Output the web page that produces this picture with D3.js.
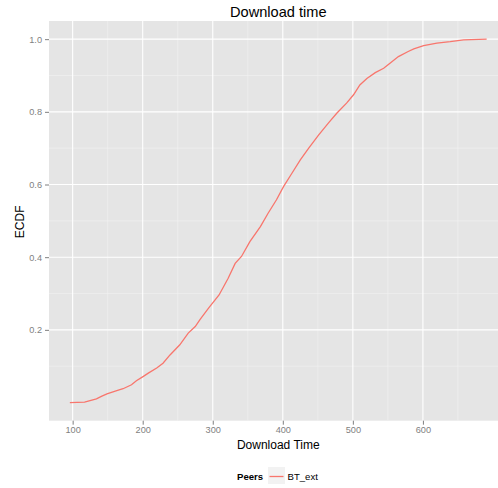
<!DOCTYPE html>
<html>
<head>
<meta charset="utf-8">
<script src="https://cdn.jsdelivr.net/npm/d3@7"></script>
<style>
  html, body { margin: 0; padding: 0; background: #ffffff; }
  svg { display: block; font-family: "Liberation Sans", Arial, Helvetica, sans-serif; }
</style>
</head>
<body>
<div id="chart"></div>
<script>
// Empirical CDF of download times for the BT_ext peers
const downloadTime = [96, 117, 134, 141, 149, 163, 172, 184, 191, 201, 208, 220, 229, 239, 253, 265, 275, 282, 294, 309,
  322, 332, 341, 353, 368, 379, 391, 401, 413, 425, 437, 451, 465, 477, 491, 501, 510, 520, 532, 544,
  553, 565, 579, 587, 601, 620, 639, 658, 691];
const ecdfValue = [0, 0.001, 0.010, 0.017, 0.024, 0.033, 0.038, 0.049, 0.060, 0.072, 0.081, 0.095, 0.108, 0.131, 0.159, 0.191, 0.209, 0.229, 0.260, 0.296,
  0.342, 0.383, 0.402, 0.443, 0.484, 0.521, 0.558, 0.594, 0.631, 0.668, 0.700, 0.736, 0.769, 0.796, 0.824, 0.847, 0.874, 0.892, 0.908, 0.920,
  0.934, 0.952, 0.966, 0.973, 0.982, 0.989, 0.993, 0.998, 1.000];
const seriesName = "BT_ext";
const xTicks = [100, 200, 300, 400, 500, 600];
const xMinor = [150, 250, 350, 450, 550, 650];
const yTicks = [0.2, 0.4, 0.6, 0.8, 1.0];
const yMinor = [0.1, 0.3, 0.5, 0.7, 0.9];

const W = 498, H = 488;
const panel = { left: 49, top: 21, right: 507.5, bottom: 420.7 };
const lineColor = "#F8766D";

const svg = d3.select("#chart").append("svg")
  .attr("width", W).attr("height", H);

// ggplot-style 5% expansion of the data range
const xExt = d3.extent(downloadTime);
const xPad = (xExt[1] - xExt[0]) * 0.05;
const x = d3.scaleLinear().domain([xExt[0] - xPad, xExt[1] + xPad]).range([panel.left, panel.right]);
const y = d3.scaleLinear().domain([-0.05, 1.05]).range([panel.bottom, panel.top]);

// panel background
svg.append("rect")
  .attr("x", panel.left).attr("y", panel.top)
  .attr("width", panel.right - panel.left).attr("height", panel.bottom - panel.top)
  .attr("fill", "#E5E5E5");

const grid = svg.append("g");
grid.selectAll("line.xminor").data(xMinor).join("line")
  .attr("x1", d => x(d)).attr("x2", d => x(d))
  .attr("y1", panel.top).attr("y2", panel.bottom)
  .attr("stroke", "#F2F2F2").attr("stroke-width", 0.6);
grid.selectAll("line.yminor").data(yMinor).join("line")
  .attr("x1", panel.left).attr("x2", panel.right)
  .attr("y1", d => y(d)).attr("y2", d => y(d))
  .attr("stroke", "#F2F2F2").attr("stroke-width", 0.6);
grid.selectAll("line.xmajor").data(xTicks).join("line")
  .attr("x1", d => x(d)).attr("x2", d => x(d))
  .attr("y1", panel.top).attr("y2", panel.bottom)
  .attr("stroke", "#FFFFFF").attr("stroke-width", 1.1);
grid.selectAll("line.ymajor").data(yTicks).join("line")
  .attr("x1", panel.left).attr("x2", panel.right)
  .attr("y1", d => y(d)).attr("y2", d => y(d))
  .attr("stroke", "#FFFFFF").attr("stroke-width", 1.1);

// ECDF curve
const pts = downloadTime.map((t, i) => [t, ecdfValue[i]]);
svg.append("path")
  .datum(pts)
  .attr("fill", "none")
  .attr("stroke", lineColor)
  .attr("stroke-width", 1.3)
  .attr("d", d3.line().x(d => x(d[0])).y(d => y(d[1])));

// axes
const xAxis = svg.append("g")
  .attr("transform", `translate(0,${panel.bottom})`)
  .call(d3.axisBottom(x).tickValues(xTicks).tickSize(4).tickPadding(2).tickFormat(d3.format("d")));
const yAxis = svg.append("g")
  .attr("transform", `translate(${panel.left},0)`)
  .call(d3.axisLeft(y).tickValues(yTicks).tickSize(4).tickPadding(3).tickFormat(d3.format(".1f")));
[xAxis, yAxis].forEach(a => {
  a.select(".domain").remove();
  a.selectAll(".tick line").attr("stroke", "#7F7F7F").attr("stroke-width", 1);
  a.selectAll(".tick text").attr("fill", "#7F7F7F")
    .style("font-size", "9.2px").style("font-family", "Liberation Sans, Arial, sans-serif");
});

const cx = (panel.left + panel.right) / 2;
const cy = (panel.top + panel.bottom) / 2;

// titles
svg.append("text")
  .attr("x", cx).attr("y", 17)
  .attr("text-anchor", "middle")
  .style("font-size", "14.6px").attr("fill", "#000")
  .text("Download time");
svg.append("text")
  .attr("x", cx).attr("y", 448.5)
  .attr("text-anchor", "middle")
  .style("font-size", "12px").attr("fill", "#000")
  .text("Download Time");
svg.append("text")
  .attr("transform", `translate(24,${cy + 1}) rotate(-90)`)
  .attr("text-anchor", "middle")
  .style("font-size", "12px").attr("fill", "#000")
  .text("ECDF");

// legend
const legend = svg.append("g").attr("transform", "translate(237,467)");
legend.append("text")
  .attr("x", 0).attr("y", 13)
  .style("font-size", "9.6px").style("font-weight", "bold").attr("fill", "#000")
  .text("Peers");
legend.append("rect")
  .attr("x", 31).attr("y", 0).attr("width", 17).attr("height", 17)
  .attr("fill", "#F2F2F2");
legend.append("line")
  .attr("x1", 32.5).attr("x2", 46.5).attr("y1", 9.5).attr("y2", 9.5)
  .attr("stroke", lineColor).attr("stroke-width", 1.3);
legend.append("text")
  .attr("x", 50.5).attr("y", 13)
  .style("font-size", "9.6px").attr("fill", "#000")
  .text(seriesName);
</script>
</body>
</html>
